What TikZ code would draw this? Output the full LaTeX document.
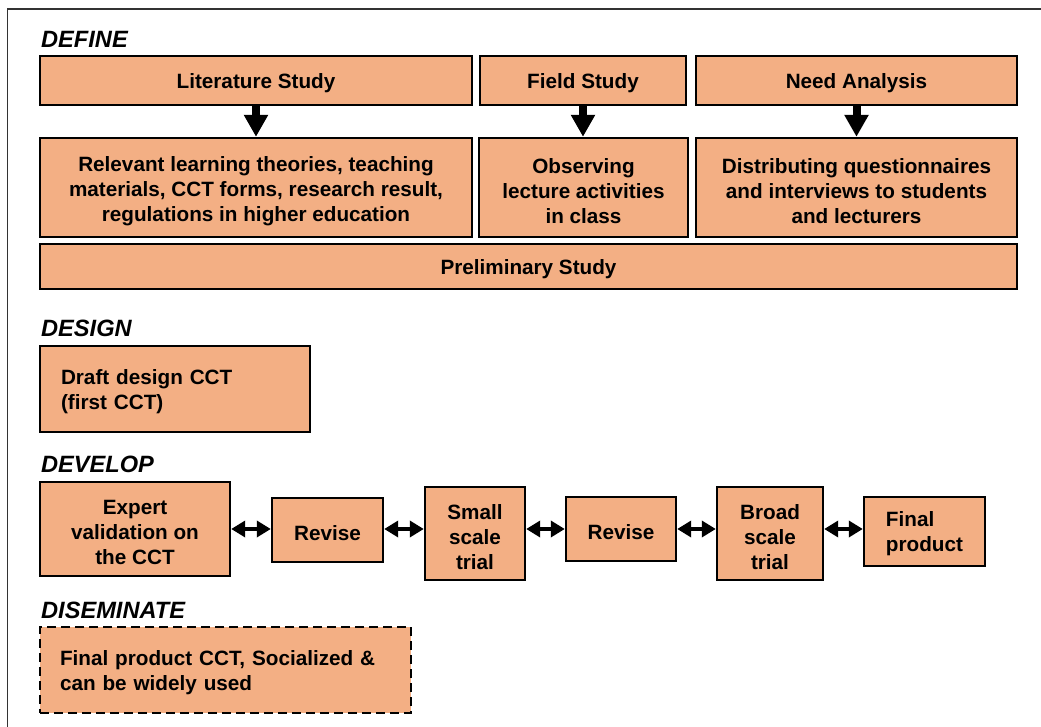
\documentclass[tikz,border=0pt]{standalone}
\usepackage{fontspec}
\setmainfont{Liberation Sans}
\usetikzlibrary{arrows.meta}
\definecolor{boxfill}{HTML}{F3AF84}
\newcommand{\mystrut}{\rule{0pt}{22pt}}
\begin{document}
\begin{tikzpicture}[x=1pt,y=-1pt,
  box/.style={draw=black,line width=2.4pt,fill=boxfill,rectangle,inner sep=0pt,align=center,
    font=\fontsize{20.7}{25}\selectfont\bfseries,execute at begin node={\rule{0pt}{21pt}}},
  leftbox/.style={box,align=left,inner xsep=21pt},
  phase/.style={anchor=base west,inner sep=0pt,font=\fontsize{23.6}{28}\selectfont\bfseries\itshape},
  varrow/.style={line width=8pt,-{Triangle[length=22pt,width=23pt]}},
  harrow/.style={line width=4.5pt,{Triangle[length=14pt,width=16pt]}-{Triangle[length=14pt,width=16pt]}}]
\useasboundingbox (0,0) rectangle (1041,727);
\draw[line width=1.3pt,black!80] (7.5,727) -- (7.5,9) -- (1041,9);

% DEFINE
\node[phase] (ldefine) at (41,48) {DEFINE};
\node[box,minimum width=432,minimum height=49] (lit) at (256,80.5) {Literature Study};
\node[box,minimum width=206,minimum height=49] (field) at (583,80.5) {Field Study};
\node[box,minimum width=321,minimum height=49] (need) at (856.5,80.5) {Need Analysis};
\node[box,minimum width=432,minimum height=99] (rel) at (256,187.5) {\mystrut Relevant learning theories, teaching\\materials, CCT forms, research result,\\regulations in higher education};
\node[box,minimum width=209,minimum height=99] (obs) at (583.5,187.5) {\mystrut Observing\\lecture activities\\in class};
\node[box,minimum width=321,minimum height=99] (dist) at (856.5,187.5) {\mystrut Distributing questionnaires\\and interviews to students\\and lecturers};
\node[box,minimum width=977,minimum height=45] (pre) at (528.5,266.5) {Preliminary Study};
\draw[varrow] (lit.south) -- (rel.north);
\draw[varrow] (field.south) -- (obs.north -| field.south);
\draw[varrow] (need.south) -- (dist.north);

% DESIGN
\node[phase] (ldesign) at (41,336) {DESIGN};
\node[leftbox,text width=228,minimum width=270,minimum height=86] (draft) at (175,389) {Draft design CCT\\(first CCT)};

% DEVELOP
\node[phase] (ldevelop) at (41,472) {DEVELOP};
\node[box,minimum width=190,minimum height=94] (expert) at (135,529) {\mystrut Expert\\validation on\\the CCT};
\node[box,minimum width=111,minimum height=64] (rev1) at (327.5,530) {Revise};
\node[box,minimum width=100,minimum height=93] (small) at (475,533.5) {\mystrut Small\\scale\\trial};
\node[box,minimum width=110,minimum height=64] (rev2) at (621,529) {Revise};
\node[box,minimum width=106,minimum height=93] (broad) at (770,533.5) {\mystrut Broad\\scale\\trial};
\node[box,minimum width=121,minimum height=69] (final) at (924.5,531.5) {\begin{tabular}{@{}l@{}}\mystrut Final\\product\end{tabular}};
\coordinate (ay) at (0,529);
\draw[harrow] (expert.east |- ay) -- (rev1.west |- ay);
\draw[harrow] (rev1.east |- ay) -- (small.west |- ay);
\draw[harrow] (small.east |- ay) -- (rev2.west |- ay);
\draw[harrow] (rev2.east |- ay) -- (broad.west |- ay);
\draw[harrow] (broad.east |- ay) -- (final.west |- ay);

% DISEMINATE
\node[phase] (ldis) at (41,618) {DISEMINATE};
\node[leftbox,text width=331,inner xsep=20pt,minimum width=371,minimum height=86,dash pattern=on 9pt off 5pt,line width=2.2pt] (dis) at (225.5,670) {Final product CCT, Socialized \&\\can be widely used};
\end{tikzpicture}
\end{document}
